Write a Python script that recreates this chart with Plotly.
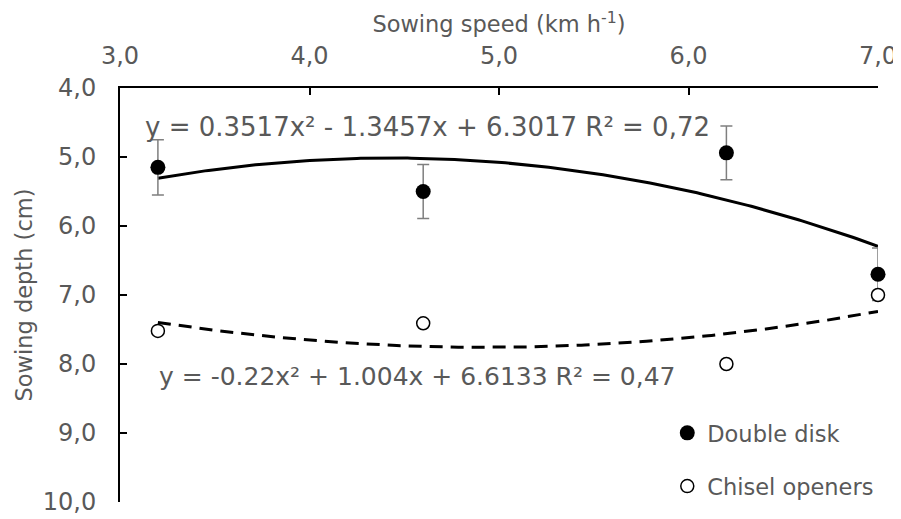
import numpy as np
import plotly.graph_objects as go

# ---- data ----
speed = [3.2, 4.6, 6.2, 7.0]
double_disk = [5.15, 5.50, 4.94, 6.70]
double_disk_err = [0.40, 0.39, 0.39, 0.38]
chisel = [7.52, 7.41, 8.00, 7.00]

# trend-line equations printed on the chart (x = treatment index)
dd_coef = [0.3517, -1.3457, 6.3017]
ch_coef = [-0.22, 1.004, 6.6133]
dd_label = "y = 0.3517x² - 1.3457x + 6.3017 R² = 0,72"
ch_label = "y = -0.22x² + 1.004x + 6.6133 R² = 0,47"
index_start, index_end = 1.0, 3.82   # index span covered by drawn curve

x_ticks = [3.0, 4.0, 5.0, 6.0, 7.0]
y_ticks = [4.0, 5.0, 6.0, 7.0, 8.0, 9.0, 10.0]

FONT = "DejaVu Sans"
GREY = "#595959"

xs = np.linspace(speed[0], speed[-1], 200)
idx = index_start + (xs - speed[0]) * (index_end - index_start) / (speed[-1] - speed[0])
dd_fit = np.polyval(dd_coef, idx)
ch_fit = np.polyval(ch_coef, idx)

fig = go.Figure()
fig.add_trace(go.Scatter(x=xs, y=dd_fit, mode="lines", cliponaxis=False,
                         line=dict(color="black", width=3), showlegend=False, hoverinfo="skip"))
fig.add_trace(go.Scatter(x=xs, y=ch_fit, mode="lines", cliponaxis=False,
                         line=dict(color="black", width=3, dash="13px,8px"), showlegend=False, hoverinfo="skip"))
fig.add_trace(go.Scatter(x=speed, y=double_disk, mode="markers", name="Double disk",
                         legendgroup="a", cliponaxis=False,
                         marker=dict(color="black", size=15, symbol="circle"),
                         error_y=dict(type="data", array=double_disk_err, visible=True,
                                      color="#7f7f7f", thickness=1.5, width=6)))
fig.add_trace(go.Scatter(x=speed, y=chisel, mode="markers", name="Chisel openers",
                         legendgroup="b", cliponaxis=False,
                         marker=dict(color="white", size=13, symbol="circle",
                                     line=dict(color="black", width=1.5))))

fig.add_annotation(x=3.12, y=4.56, xref="x", yref="y", text=dd_label, showarrow=False,
                   xanchor="left", yanchor="middle", font=dict(family=FONT, size=26, color=GREY))
fig.add_annotation(x=3.195, y=8.18, xref="x", yref="y", text=ch_label, showarrow=False,
                   xanchor="left", yanchor="middle", font=dict(family=FONT, size=25, color=GREY))

fig.update_layout(
    width=893, height=511,
    margin=dict(l=112, r=23, t=80, b=16),
    paper_bgcolor="white", plot_bgcolor="white",
    separators=",.",
    font=dict(family=FONT, size=22, color=GREY),
    legend=dict(x=0.722, y=0.22, xanchor="left", yanchor="top",
                font=dict(family=FONT, size=22.5, color=GREY),
                bgcolor="rgba(0,0,0,0)", tracegroupgap=21, itemwidth=30),
    xaxis=dict(side="top", range=[3.0, 7.0], tickvals=x_ticks, tickformat=".1f",
               automargin=False,
               showgrid=False, zeroline=False, showline=True, linecolor="black", linewidth=2,
               ticks="inside", ticklen=7, tickwidth=1.5, tickcolor="black",
               ticklabelstandoff=12,
               tickfont=dict(family=FONT, size=24, color=GREY),
               title=dict(text="Sowing speed (km h<sup>-1</sup>)", standoff=5,
                          font=dict(family=FONT, size=22.5, color=GREY))),
    yaxis=dict(range=[10.0, 4.0], tickvals=y_ticks, tickformat=".1f",
               automargin=False,
               showgrid=False, zeroline=False, showline=True, linecolor="black", linewidth=2,
               ticks="inside", ticklen=7, tickwidth=1.5, tickcolor="black",
               ticklabelstandoff=17,
               tickfont=dict(family=FONT, size=24, color=GREY),
               title=dict(text="Sowing depth (cm)", standoff=4,
                          font=dict(family=FONT, size=22.5, color=GREY))),
)

fig.write_html("out.html")
